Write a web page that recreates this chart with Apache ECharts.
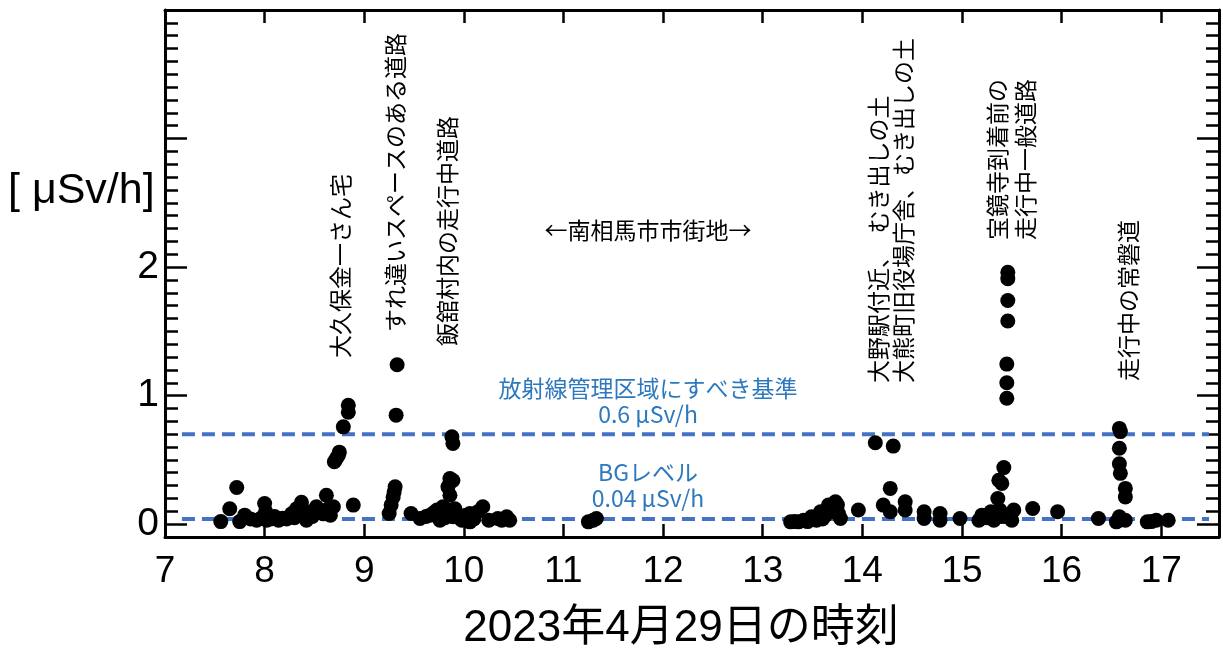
<!DOCTYPE html>
<html>
<head>
<meta charset="utf-8">
<script src="https://cdn.jsdelivr.net/npm/echarts@6/dist/echarts.min.js"></script>
<style>
html,body{margin:0;padding:0;background:#fff;}
#chart{width:1223px;height:651px;}
</style>
</head>
<body>
<div id="chart"></div>
<script>
// ---- data ----
const hours = [
  7.56,7.65,7.72,7.75,7.80,7.86,7.92,7.97,8.00,8.01,8.02,8.06,8.10,8.14,8.18,8.22,8.27,8.30,8.32,8.37,
  8.40,8.42,8.45,8.48,8.52,8.55,8.59,8.62,8.64,8.66,8.69,8.70,8.72,8.74,8.75,8.79,8.84,8.84,8.89,
  9.25,9.27,9.29,9.30,9.31,9.32,9.33,
  9.47,9.56,9.62,9.66,9.70,9.73,9.76,9.79,9.81,9.83,9.84,9.86,9.86,9.88,9.89,9.89,9.89,9.91,9.91,9.95,9.98,
  10.02,10.06,10.06,10.10,10.14,10.19,10.25,10.34,10.38,10.43,10.46,
  11.25,11.30,11.33,
  13.28,13.32,13.36,13.41,13.45,13.49,13.54,13.58,13.60,13.63,13.66,13.70,13.73,13.75,13.76,13.78,13.96,
  14.13,14.21,14.28,14.28,14.31,14.43,14.43,14.62,14.62,14.78,14.78,14.98,
  15.17,15.20,15.25,15.29,15.32,15.36,15.37,15.40,15.42,15.38,15.40,15.45,
  15.45,15.45,15.45,15.46,15.46,15.46,15.46,15.50,15.52,15.71,15.96,
  16.37,16.55,16.58,16.58,16.59,16.58,16.58,16.59,16.64,16.64,16.64,16.86,16.90,16.95,17.07
];
const doseRates = [
  0.02,0.12,0.285,0.02,0.07,0.04,0.03,0.05,0.16,0.10,0.03,0.04,0.06,0.03,0.045,0.04,0.08,0.05,0.12,0.17,
  0.07,0.03,0.095,0.06,0.135,0.09,0.08,0.225,0.12,0.07,0.135,0.485,0.51,0.535,0.56,0.757,0.87,0.925,0.148,
  0.083,0.148,0.21,0.25,0.29,0.848,1.24,
  0.083,0.044,0.06,0.07,0.09,0.11,0.03,0.135,0.05,0.11,0.29,0.225,0.355,0.68,0.628,0.34,0.057,0.1,0.12,0.05,0.03,
  0.07,0.083,0.018,0.04,0.096,0.135,0.03,0.044,0.03,0.057,0.03,
  0.018,0.03,0.044,
  0.018,0.02,0.018,0.03,0.02,0.057,0.03,0.096,0.04,0.07,0.148,0.096,0.174,0.15,0.083,0.044,0.11,
  0.633,0.148,0.278,0.096,0.607,0.174,0.11,0.096,0.044,0.083,0.03,0.044,
  0.03,0.07,0.05,0.096,0.03,0.2,0.342,0.317,0.44,0.11,0.06,0.057,
  0.98,1.10,1.245,1.58,1.74,1.91,1.96,0.03,0.11,0.122,0.096,
  0.044,0.018,0.057,0.745,0.72,0.59,0.47,0.395,0.278,0.212,0.03,0.018,0.02,0.03,0.03
];
const xTickLabels = [7,8,9,10,11,12,13,14,15,16,17];
const yTickLabels = [0,1,2];
const limitLevel = 0.7;     // drawn level of the management-area line
const bgLevel = 0.04;       // background level line
const refLineSpan = [7.17, 17.48];
const xName = '2023年4月29日の時刻';
const yName = '[ μSv/h]';

// ---- chart ----
const chart = echarts.init(document.getElementById('chart'), null, {renderer: 'canvas'});
const points = hours.map((h, i) => [h, doseRates[i]]);
const near = (v, arr) => arr.some(a => Math.abs(v - a) < 1e-6);
const numFont = '"Liberation Sans", Arial, sans-serif';
const jpFont = '"Noto Sans CJK JP", sans-serif';
const black = '#000';
const blue = '#2E78BE';
const lineBlue = '#4472C4';
const gridTop = 10, gridBottomPx = 537, gridLeft = 165, gridRightPx = 1219;
const yMin = -0.1, yMax = 4;
const zeroPx = gridBottomPx - (0 - yMin) / (yMax - yMin) * (gridBottomPx - gridTop);

const axisLine = {show: true, onZero: false, lineStyle: {color: black, width: 3}};
const annFont = '23px ' + jpFont;

const option = {
  animation: false,
  backgroundColor: '#fff',
  grid: [
    {left: gridLeft, right: 1223 - gridRightPx, top: gridTop, bottom: 651 - gridBottomPx, containLabel: false, outerBoundsMode: 'none'},
    {left: gridLeft, right: 1223 - gridRightPx, top: gridTop, bottom: 651 - zeroPx, containLabel: false, outerBoundsMode: 'none'}
  ],
  xAxis: [
    {
      type: 'value', gridIndex: 0, min: 7, max: 17.58, interval: 1, position: 'bottom',
      axisLine: axisLine,
      axisTick: {show: true, inside: true, length: 13, lineStyle: {color: black, width: 2.5}},
      axisLabel: {show: true, color: black, fontSize: 37, fontFamily: numFont, margin: 16,
        formatter: v => near(v, xTickLabels) ? String(Math.round(v)) : ''},
      splitLine: {show: false},
      name: xName, nameLocation: 'middle', nameGap: 70,
      nameTextStyle: {color: black, fontSize: 44, padding: [0, 22, 0, 0], fontFamily: '"Liberation Sans", "Noto Sans CJK JP", sans-serif'}
    },
    {
      type: 'value', gridIndex: 0, min: 7, max: 17.58, interval: 1, position: 'top',
      axisLine: axisLine,
      axisTick: {show: true, inside: true, length: 13, lineStyle: {color: black, width: 2.5}},
      axisLabel: {show: false}, splitLine: {show: false}
    },
    {
      type: 'value', gridIndex: 1, min: 7, max: 17.58, show: false
    }
  ],
  yAxis: [
    {
      type: 'value', gridIndex: 0, min: yMin, max: yMax, interval: 0.1, position: 'left',
      axisLine: axisLine,
      axisTick: {show: true, inside: true, length: 13, lineStyle: {color: black, width: 2.5}},
      axisLabel: {show: true, color: black, fontSize: 39, fontFamily: numFont, margin: 6,
        formatter: v => near(v, yTickLabels) ? String(Math.round(v)) : ''},
      splitLine: {show: false}
    },
    {
      type: 'value', gridIndex: 0, min: yMin, max: yMax, interval: 0.1, position: 'right',
      axisLine: axisLine,
      axisTick: {show: true, inside: true, length: 13, lineStyle: {color: black, width: 2.5}},
      axisLabel: {show: false}, splitLine: {show: false}
    },
    {
      type: 'value', gridIndex: 1, min: 0, max: yMax, interval: 1, position: 'left',
      axisLine: {show: false, onZero: false},
      axisTick: {show: true, inside: true, length: 22, lineStyle: {color: black, width: 2.5}},
      axisLabel: {show: false}, splitLine: {show: false}
    },
    {
      type: 'value', gridIndex: 1, min: 0, max: yMax, interval: 1, position: 'right',
      axisLine: {show: false, onZero: false},
      axisTick: {show: true, inside: true, length: 22, lineStyle: {color: black, width: 2.5}},
      axisLabel: {show: false}, splitLine: {show: false}
    }
  ],
  series: [
    {
      type: 'line', xAxisIndex: 0, yAxisIndex: 0, symbol: 'none', silent: true, z: 1,
      data: refLineSpan.map(x => [x, limitLevel]),
      lineStyle: {color: lineBlue, width: 4, type: [13, 7]}
    },
    {
      type: 'line', xAxisIndex: 0, yAxisIndex: 0, symbol: 'none', silent: true, z: 1,
      data: refLineSpan.map(x => [x, bgLevel]),
      lineStyle: {color: lineBlue, width: 4, type: [13, 7]}
    },
    {
      type: 'scatter', xAxisIndex: 0, yAxisIndex: 0, z: 3,
      symbol: 'circle', symbolSize: 15,
      itemStyle: {color: black, opacity: 1},
      data: points
    }
  ],
  graphic: [
    {type: 'text', left: 8, top: 170, style: {text: yName, font: '43px "Liberation Sans", sans-serif', fill: black}},
    // vertical annotations (rotated, reading bottom to top)
    {type: 'text', x: 340, y: 358, rotation: Math.PI / 2, style: {text: '大久保金一さん宅', font: annFont, fill: black, textAlign: 'left', textVerticalAlign: 'middle'}},
    {type: 'text', x: 395, y: 332, rotation: Math.PI / 2, style: {text: 'すれ違いスペースのある道路', font: annFont, fill: black, textAlign: 'left', textVerticalAlign: 'middle'}},
    {type: 'text', x: 447, y: 346, rotation: Math.PI / 2, style: {text: '飯舘村内の走行中道路', font: annFont, fill: black, textAlign: 'left', textVerticalAlign: 'middle'}},
    {type: 'text', x: 648, y: 230, style: {text: '←南相馬市市街地→', font: annFont, fill: black, textAlign: 'center', textVerticalAlign: 'middle'}},
    {type: 'text', x: 878, y: 383, rotation: Math.PI / 2, style: {text: '大野駅付近、\u3000むき出しの土', font: annFont, fill: black, textAlign: 'left', textVerticalAlign: 'middle'}},
    {type: 'text', x: 903, y: 383, rotation: Math.PI / 2, style: {text: '大熊町旧役場庁舎、むき出しの土', font: annFont, fill: black, textAlign: 'left', textVerticalAlign: 'middle'}},
    {type: 'text', x: 997, y: 240, rotation: Math.PI / 2, style: {text: '宝鏡寺到着前の', font: annFont, fill: black, textAlign: 'left', textVerticalAlign: 'middle'}},
    {type: 'text', x: 1025, y: 240, rotation: Math.PI / 2, style: {text: '走行中一般道路', font: annFont, fill: black, textAlign: 'left', textVerticalAlign: 'middle'}},
    {type: 'text', x: 1128, y: 381, rotation: Math.PI / 2, style: {text: '走行中の常磐道', font: annFont, fill: black, textAlign: 'left', textVerticalAlign: 'middle'}},
    // blue reference labels
    {type: 'text', x: 648, y: 388, style: {text: '放射線管理区域にすべき基準', font: annFont, fill: blue, textAlign: 'center', textVerticalAlign: 'middle'}},
    {type: 'text', x: 648, y: 414, style: {text: '0.6 μSv/h', font: annFont, fill: blue, textAlign: 'center', textVerticalAlign: 'middle'}},
    {type: 'text', x: 648, y: 472, style: {text: 'BGレベル', font: annFont, fill: blue, textAlign: 'center', textVerticalAlign: 'middle'}},
    {type: 'text', x: 648, y: 498, style: {text: '0.04 μSv/h', font: annFont, fill: blue, textAlign: 'center', textVerticalAlign: 'middle'}}
  ]
};
chart.setOption(option);
</script>
</body>
</html>
